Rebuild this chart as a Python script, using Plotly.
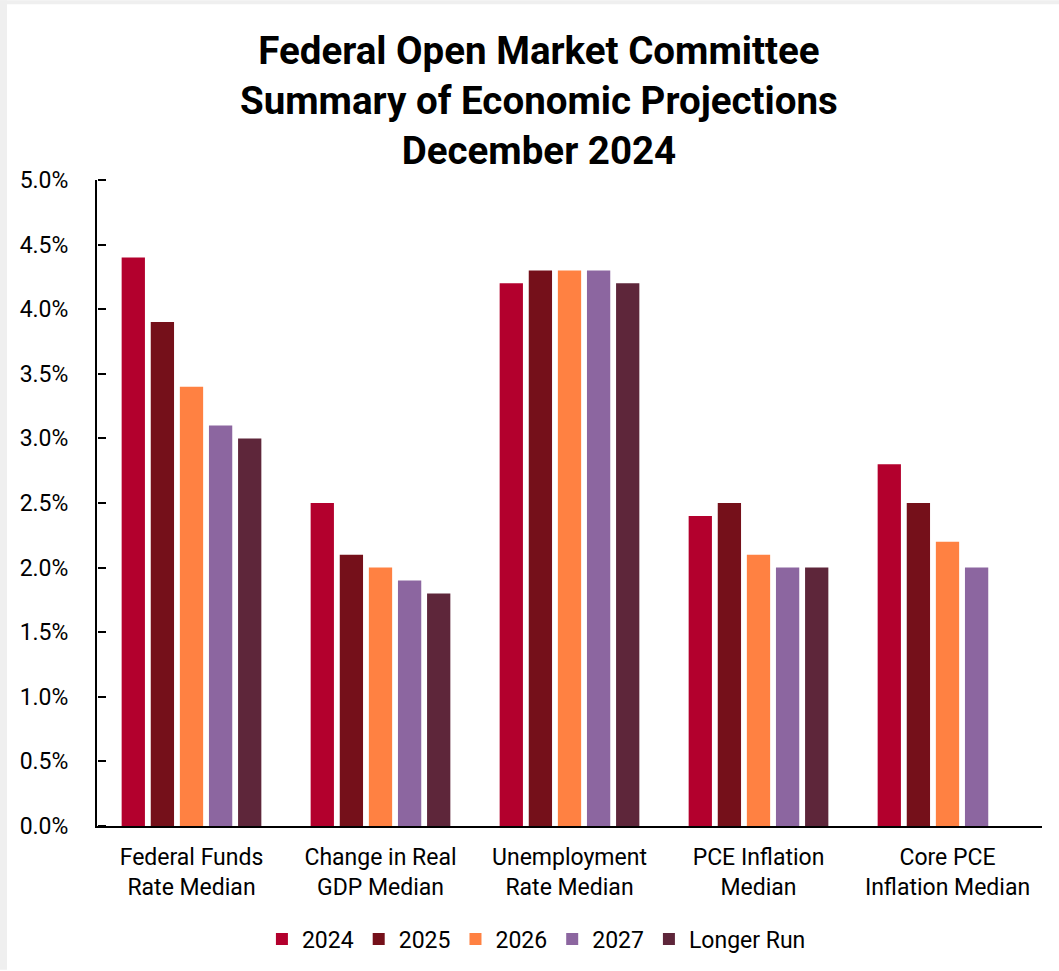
import plotly.graph_objects as go

categories = ["Federal Funds<br>Rate Median", "Change in Real<br>GDP Median",
              "Unemployment<br>Rate Median", "PCE Inflation<br>Median",
              "Core PCE<br>Inflation Median"]
series_names = ["2024", "2025", "2026", "2027", "Longer Run"]
v2024 = [4.4, 2.5, 4.2, 2.4, 2.8]
v2025 = [3.9, 2.1, 4.3, 2.5, 2.5]
v2026 = [3.4, 2.0, 4.3, 2.1, 2.2]
v2027 = [3.1, 1.9, 4.3, 2.0, 2.0]
vlong = [3.0, 1.8, 4.2, 2.0, None]
colors = ["#B3002D", "#75101A", "#FF8142", "#8C66A0", "#5E263A"]
y_ticks = [0, 0.5, 1.0, 1.5, 2.0, 2.5, 3.0, 3.5, 4.0, 4.5, 5.0]
title_text = "<b>Federal Open Market Committee<br>Summary of Economic Projections<br>December 2024</b>"

L, R, T, B = 97, 17, 180, 144
PW, PH = 1059 - L - R, 971 - T - B

fig = go.Figure()
for name, vals, col in zip(series_names, [v2024, v2025, v2026, v2027, vlong], colors):
    fig.add_trace(go.Bar(x=categories, y=vals, name=name, marker_color=col,
                         marker_line_width=0))
# empty helper trace that only binds the secondary axis (draws right-pointing ticks)
fig.add_trace(go.Scatter(x=[], y=[], yaxis="y2", showlegend=False, hoverinfo="skip"))

fig.update_layout(
    width=1059, height=971,
    paper_bgcolor="white", plot_bgcolor="white",
    font=dict(family="Roboto", size=23, color="black"),
    margin=dict(l=L, r=R, t=T, b=B),
    barmode="group", bargap=0.23, bargroupgap=0.2,
    showlegend=True,
    legend=dict(orientation="h", x=0.465, xanchor="center", y=-0.14, yanchor="top",
                font=dict(size=23), itemwidth=30, traceorder="normal"),
    xaxis=dict(showline=True, linecolor="black", linewidth=2, ticks="",
               tickfont=dict(size=23), showgrid=False, ticklabelstandoff=9),
    yaxis=dict(range=[0, 5.0], tickvals=y_ticks, ticktext=[f"{t:.1f}%" for t in y_ticks],
               showline=True, linecolor="black", linewidth=2, ticks="",
               showgrid=False, tickfont=dict(size=23), zeroline=False,
               ticklabelstandoff=22),
    yaxis2=dict(overlaying="y", side="right", anchor="free", position=0,
                range=[0, 5.0], tickvals=y_ticks, showticklabels=False,
                ticks="outside", ticklen=8, tickwidth=2, tickcolor="black",
                showline=False, showgrid=False, zeroline=False),
    annotations=[dict(text=title_text, xref="paper", yref="paper",
                      x=(539 - L) / PW, y=(827 - 100) / PH, xanchor="center",
                      yanchor="middle", showarrow=False, align="center",
                      font=dict(family="Roboto", size=38.5, color="black"))],
    shapes=[
        dict(type="rect", xref="paper", yref="paper",
             x0=-L / PW, x1=-(L - 7) / PW, y0=-B / PH, y1=(PH + T) / PH,
             fillcolor="#EFEFEF", line_width=0, layer="below"),
        dict(type="rect", xref="paper", yref="paper",
             x0=-L / PW, x1=(PW + R) / PW, y0=(PH + T - 4) / PH, y1=(PH + T) / PH,
             fillcolor="#EFEFEF", line_width=0, layer="below"),
    ],
)

fig.write_html("out.html")
